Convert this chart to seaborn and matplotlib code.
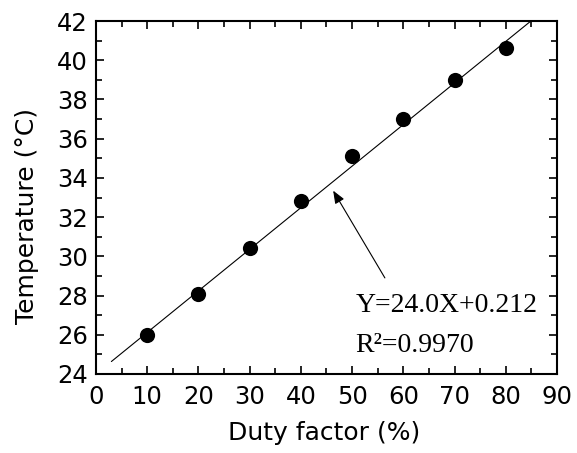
import numpy as np
import pandas as pd
import matplotlib
matplotlib.use("Agg")
import matplotlib.pyplot as plt
import seaborn as sns
from matplotlib.ticker import MultipleLocator

# Data
duty = [10, 20, 30, 40, 50, 60, 70, 80]
temperature = [26.0, 28.1, 30.4, 32.8, 35.1, 37.0, 39.0, 40.6]
fit_slope = 0.212
fit_intercept = 24.0
fit_range = [3, 90]
eq_text = "Y=24.0X+0.212"
r2_text = "R²=0.9970"

sns.set_theme(style="ticks")
plt.rcParams['font.family'] = ['DejaVu Sans']
plt.rcParams['text.color'] = 'black'
plt.rcParams['axes.labelcolor'] = 'black'

df = pd.DataFrame({"Duty factor (%)": duty, "Temperature (°C)": temperature})
fit_x = np.array(fit_range, dtype=float)
fit_df = pd.DataFrame({"x": fit_x, "y": fit_slope * fit_x + fit_intercept})

fig = plt.figure(figsize=(5.77, 4.53), dpi=100)
ax = fig.add_axes([0.1664, 0.1744, 0.9653 - 0.1664, 0.9536 - 0.1744])

sns.lineplot(data=fit_df, x="x", y="y", ax=ax, color="black", linewidth=0.8)
sns.scatterplot(data=df, x="Duty factor (%)", y="Temperature (°C)", ax=ax,
                color="black", s=120, edgecolor="black", linewidth=0, zorder=3)

ax.set_xlim(0, 90)
ax.set_ylim(24, 42)
ax.xaxis.set_major_locator(MultipleLocator(10))
ax.xaxis.set_minor_locator(MultipleLocator(5))
ax.yaxis.set_major_locator(MultipleLocator(2))
ax.yaxis.set_minor_locator(MultipleLocator(1))
ax.tick_params(which="both", direction="in", top=True, right=True, width=1.2,
               colors="black", labelcolor="black")
ax.tick_params(which="major", length=6, labelsize=17.5)
ax.tick_params(axis="x", which="major", pad=8)
ax.tick_params(axis="y", which="major", pad=6)
ax.tick_params(which="minor", length=4)
for sp in ax.spines.values():
    sp.set_linewidth(1.5)
    sp.set_color("black")

ax.set_xlabel("Duty factor (%)", fontsize=18)
ax.set_ylabel("Temperature (°C)", fontsize=18)
ax.xaxis.set_label_coords(0.4946, -0.167)
ax.xaxis.label.set_verticalalignment("center")
ax.yaxis.set_label_coords(-0.1497, 0.4476)
ax.yaxis.label.set_verticalalignment("center")

ax.annotate("", xy=(46.3, 33.35), xytext=(56.4, 28.9),
            arrowprops=dict(arrowstyle="-|>,head_length=0.55,head_width=0.22",
                            color="black", lw=0.8,
                            mutation_scale=14, shrinkA=0, shrinkB=0))
ax.text(50.7, 27.16, eq_text, fontsize=20, family="Liberation Serif", va="baseline", ha="left")
ax.text(50.7, 25.14, r2_text, fontsize=20, family="Liberation Serif", va="baseline", ha="left")

fig.savefig("out.png", dpi=100)
